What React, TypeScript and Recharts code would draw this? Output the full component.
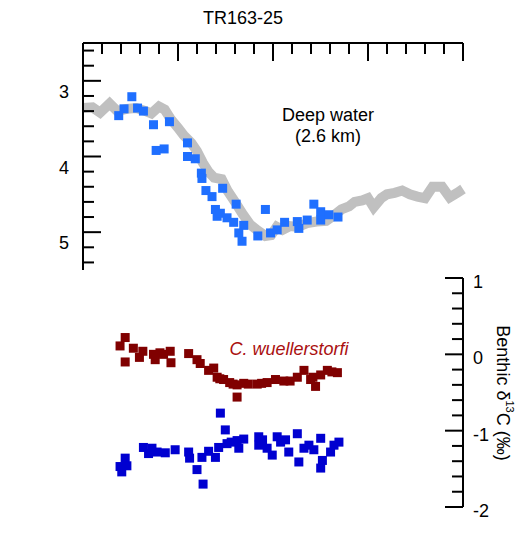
import React from "react";
import { ComposedChart, Line, Scatter, XAxis, YAxis } from "recharts";

// age axis (kyr), shared by both panels
const ageTicks = [1, 2, 3, 4, 5, 6, 7, 8, 9, 10, 11, 12, 13, 14, 15, 16, 17, 18, 19, 20];
const d18OTicks = [2.6, 2.8, 3, 3.2, 3.4, 3.6, 3.8, 4, 4.2, 4.4, 4.6, 4.8, 5, 5.2, 5.4];
const d13CTicks = [-2, -1.8, -1.6, -1.4, -1.2, -1, -0.8, -0.6, -0.4, -0.2, 0, 0.2, 0.4, 0.6, 0.8, 1];

// grey reference curve
const refAge = [0, 0.5, 0.9, 1.4, 1.8, 2.3, 2.8, 3.3, 3.6, 4.0, 4.3, 4.6, 5.0, 5.3, 5.7, 6.0, 6.3, 6.6, 6.9, 7.3, 7.6, 8.0, 8.4, 8.8, 9.2, 9.6, 9.9, 10.2, 10.5, 10.9, 11.3, 11.8, 12.3, 12.8, 13.2, 13.6, 14.0, 14.3, 14.7, 15.0, 15.3, 15.7, 16.0, 16.4, 16.8, 17.2, 17.6, 18.0, 18.4, 18.9, 19.3, 19.7, 20.0];
const refD18O = [3.36, 3.35, 3.42, 3.3, 3.4, 3.37, 3.36, 3.4, 3.43, 3.34, 3.38, 3.5, 3.62, 3.72, 3.82, 3.93, 4.08, 4.2, 4.28, 4.3, 4.45, 4.6, 4.76, 4.9, 4.98, 5.05, 5.04, 4.93, 4.97, 4.92, 4.93, 4.88, 4.86, 4.85, 4.78, 4.7, 4.66, 4.6, 4.58, 4.55, 4.67, 4.55, 4.5, 4.48, 4.45, 4.5, 4.53, 4.55, 4.4, 4.4, 4.54, 4.48, 4.43];

// deep water d18O
const deepAge = [1.88, 2.16, 2.57, 2.87, 3.18, 3.71, 3.85, 4.27, 4.55, 5.5, 5.5, 5.91, 6.23, 6.26, 6.47, 6.79, 6.97, 7.06, 7.23, 7.35, 7.58, 7.93, 8.06, 8.2, 8.37, 8.46, 9.2, 9.6, 9.87, 10.22, 10.61, 11.28, 11.36, 11.8, 12.15, 12.51, 12.51, 12.94, 13.42];
const deepD18O = [3.46, 3.37, 3.21, 3.36, 3.4, 3.58, 3.92, 3.9, 3.54, 3.82, 4.0, 4.03, 4.22, 4.29, 4.45, 4.53, 4.7, 4.79, 4.75, 4.42, 4.81, 4.87, 4.63, 5.01, 5.12, 4.91, 5.05, 4.7, 5.01, 4.97, 4.87, 4.86, 4.95, 4.84, 4.63, 4.73, 4.84, 4.77, 4.8];

// C. wuellerstorfi d13C
const wuelAge = [1.95, 2.22, 2.22, 2.65, 2.97, 3.15, 3.71, 3.8, 4.05, 4.24, 4.59, 4.63, 5.56, 6.0, 6.17, 6.61, 6.88, 7.06, 7.2, 7.4, 7.72, 7.9, 8.11, 8.11, 8.46, 8.7, 9.17, 9.4, 9.69, 10.13, 10.57, 10.9, 11.28, 11.63, 11.98, 12.1, 12.24, 12.51, 12.86, 13.1, 13.39];
const wuelD13C = [0.11, 0.22, -0.1, 0.08, -0.04, 0.04, 0.0, -0.07, 0.02, 0.0, 0.04, -0.11, 0.01, -0.07, -0.12, -0.21, -0.18, -0.3, -0.32, -0.33, -0.37, -0.39, -0.4, -0.56, -0.38, -0.39, -0.39, -0.38, -0.37, -0.33, -0.35, -0.35, -0.3, -0.21, -0.33, -0.3, -0.42, -0.27, -0.21, -0.23, -0.24];

// second benthic d13C record
const lowAge = [1.95, 2.04, 2.22, 2.31, 3.18, 3.45, 3.63, 3.9, 4.33, 4.85, 5.56, 5.61, 6.0, 6.26, 6.32, 6.61, 6.97, 7.14, 7.23, 7.49, 7.58, 7.8, 8.11, 8.2, 8.46, 9.25, 9.25, 9.45, 9.69, 9.96, 10.22, 10.4, 10.66, 10.83, 11.28, 11.36, 11.63, 11.89, 12.15, 12.51, 12.51, 12.6, 13.03, 13.21, 13.47];
const lowD13C = [-1.47, -1.54, -1.36, -1.46, -1.22, -1.3, -1.23, -1.28, -1.29, -1.25, -1.28, -1.36, -1.51, -1.35, -1.7, -1.27, -1.35, -1.22, -0.77, -0.99, -1.17, -1.15, -1.13, -1.23, -1.11, -1.08, -1.19, -1.12, -1.23, -1.32, -1.08, -1.15, -1.12, -1.28, -1.04, -1.41, -1.23, -1.19, -1.25, -1.1, -1.49, -1.39, -1.28, -1.19, -1.15];

const zip = (xs: number[], ys: number[]) => xs.map((x, i) => ({ x, y: ys[i] }));
const refData = zip(refAge, refD18O);
const deepData = zip(deepAge, deepD18O);
const wuelData = zip(wuelAge, wuelD13C);
const lowData = zip(lowAge, lowD13C);

const FONT = "'Liberation Sans', Arial, sans-serif";
const FS = 18;
const W = 520;
const H = 539;

const square = (color: string) => (p: any) =>
  <rect x={p.cx - 4.5} y={p.cy - 4.5} width={9} height={9} fill={color} />;

const TopTick = (props: any) => {
  const { x, y, payload } = props;
  const len = payload.value % 5 === 0 ? 18 : 11;
  return <line x1={x} y1={y} x2={x} y2={y + len} stroke="#000" strokeWidth={2} />;
};

const LeftTick = (props: any) => {
  const { x, y, payload } = props;
  const major = Number.isInteger(payload.value);
  return (
    <g>
      <line x1={x} y1={y} x2={x + (major ? 18 : 11)} y2={y} stroke="#000" strokeWidth={2} />
      {major && (
        <text x={x - 14} y={y + 11} textAnchor="end" dominantBaseline="central" fontSize={FS} fontFamily={FONT} fill="#000">
          {payload.value}
        </text>
      )}
    </g>
  );
};

const RightTick = (props: any) => {
  const { x, y, payload } = props;
  const major = Number.isInteger(payload.value);
  return (
    <g>
      <line x1={x} y1={y} x2={x - (major ? 18 : 11)} y2={y} stroke="#000" strokeWidth={2} />
      {major && (
        <text x={x + 10} y={y + 4} textAnchor="start" dominantBaseline="central" fontSize={FS} fontFamily={FONT} fill="#000">
          {payload.value}
        </text>
      )}
    </g>
  );
};

const axisLine = { stroke: "#000", strokeWidth: 2 };

export default function App() {
  return (
    <div style={{ position: "absolute", left: 0, top: 0, width: W, height: H, background: "#fff" }}>
      <div style={{ position: "absolute", left: 0, top: 0 }}>
        <ComposedChart width={W} height={H} margin={{ top: 42, left: 82, right: 57, bottom: 269 }}>
          <XAxis type="number" dataKey="x" orientation="top" domain={[0, 20]} ticks={ageTicks} interval={0}
            height={1} tickSize={0} tickMargin={0} tickLine={false} axisLine={axisLine} tick={TopTick} />
          <YAxis type="number" dataKey="y" domain={[2.5, 5.5]} reversed ticks={d18OTicks} interval={0}
            width={1} tickSize={0} tickMargin={0} tickLine={false} axisLine={axisLine} tick={LeftTick} />
          <Line data={refData} dataKey="y" type="linear" stroke="#c0c0c0" strokeWidth={10} dot={false}
            isAnimationActive={false} />
          <Scatter data={deepData} dataKey="y" shape={square("#1f6fff")} isAnimationActive={false} />
        </ComposedChart>
      </div>
      <div style={{ position: "absolute", left: 0, top: 0 }}>
        <ComposedChart width={W} height={H} margin={{ top: 278, left: 83, right: 56, bottom: 32 }}>
          <XAxis type="number" dataKey="x" domain={[0, 20]} hide />
          <YAxis type="number" dataKey="y" orientation="right" domain={[-2, 1]} ticks={d13CTicks} interval={0}
            width={1} tickSize={0} tickMargin={0} tickLine={false} axisLine={axisLine} tick={RightTick} />
          <Scatter data={wuelData} dataKey="y" shape={square("#800000")} isAnimationActive={false} />
          <Scatter data={lowData} dataKey="y" shape={square("#0000d0")} isAnimationActive={false} />
        </ComposedChart>
      </div>
      <svg width={W} height={H} style={{ position: "absolute", left: 0, top: 0, pointerEvents: "none" }}>
        <g fontFamily={FONT} fontSize={FS} fill="#000">
          <text x={243} y={18} textAnchor="middle" dominantBaseline="central">TR163-25</text>
          <text x={328} y={115} textAnchor="middle" dominantBaseline="central">Deep water</text>
          <text x={328} y={136} textAnchor="middle" dominantBaseline="central">(2.6 km)</text>
          <text x={289} y={349} textAnchor="middle" dominantBaseline="central" fontStyle="italic" fill="#aa1010">
            C. wuellerstorfi
          </text>
          <text transform="translate(503,393) rotate(90)" textAnchor="middle" dominantBaseline="central">
            Benthic δ<tspan fontSize={11} dy={-7}>13</tspan><tspan dy={7}>C (‰)</tspan>
          </text>
        </g>
      </svg>
    </div>
  );
}
